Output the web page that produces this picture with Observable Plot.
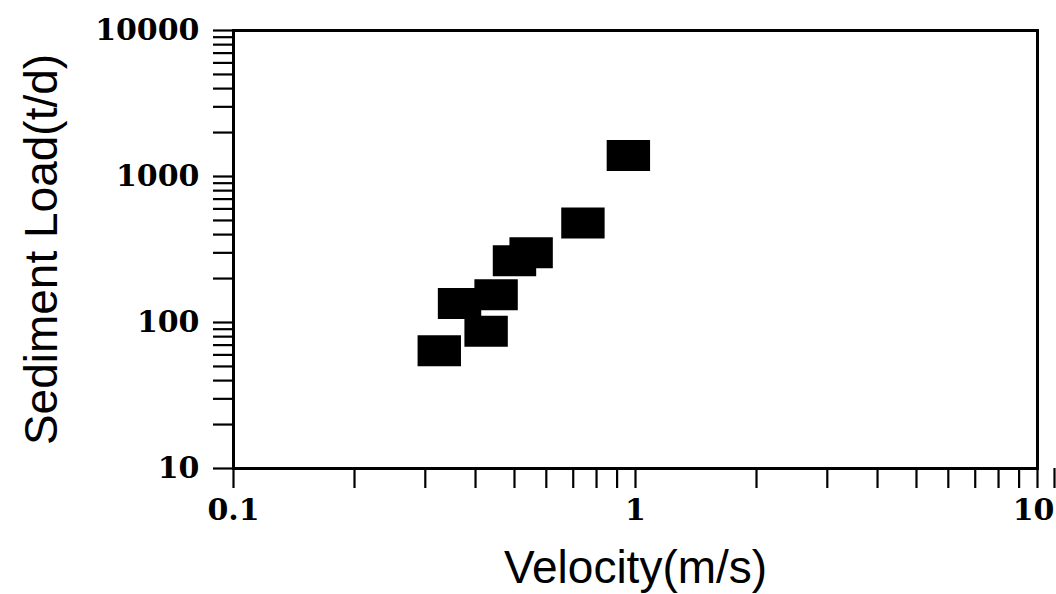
<!DOCTYPE html>
<html><head><meta charset="utf-8">
<script src="https://cdn.jsdelivr.net/npm/d3@7"></script>
<script src="https://cdn.jsdelivr.net/npm/@observablehq/plot@0.6"></script>
<style>html,body{margin:0;padding:0;background:#fff;} svg{display:block;}</style>
</head><body><div id="chart"></div>
<script>
// Data
const velocity     = [0.96, 0.74, 0.55, 0.50, 0.45, 0.365, 0.425, 0.325];
const sedimentLoad = [1390, 480, 300, 265, 155, 135, 87, 64];

// Tick values and labels
const xTickValues = [0.1,0.2,0.3,0.4,0.5,0.6,0.7,0.8,0.9,1,2,3,4,5,6,7,8,9,10];
const xLabelValues = [0.1, 1];
const xLabels = ["0.1", "1"];
const xEndLabelValues = [10];
const xEndLabels = ["10"];
const yTickValues = [10,20,30,40,50,60,70,80,90,100,200,300,400,500,600,700,800,900,1000,2000,3000,4000,5000,6000,7000,8000,9000,10000];
const yLabelValues = [10, 100, 1000, 10000];
const yLabels = ["10", "100", "1000", "10000"];
const xTitle = "Velocity(m/s)";
const yTitle = "Sediment Load(t/d)";

const points = velocity.map((v, i) => ({v, s: sedimentLoad[i]}));
const fmt = (vals, labs) => d => { const i = vals.findIndex(x => Math.abs(x - d) < 1e-9 * Math.max(1, d)); return i >= 0 ? labs[i] : ""; };

// rectangular marker (wider than tall)
const rectSymbol = {
  draw(ctx, size) {
    const r = Math.sqrt(size / Math.PI);
    ctx.rect(-r * 1.4, -r, r * 2.8, r * 2);
  }
};

const tickFont = {fontFamily: "DejaVu Serif", fontWeight: "bold", fontSize: 30};

const chart = Plot.plot({
  width: 1056,
  height: 594,
  marginLeft: 233,
  marginRight: 19,
  marginTop: 30,
  marginBottom: 126,
  style: {background: "#fff", color: "#000"},
  x: {type: "log", domain: [0.1, 10]},
  y: {type: "log", domain: [10, 10000]},
  marks: [
    Plot.axisX(xTickValues, {tickSize: 20, tickPadding: 10, strokeWidth: 2.2, tickFormat: fmt(xLabelValues, xLabels), label: null, ...tickFont}),
    Plot.axisX(xEndLabelValues, {tickSize: 20, tickPadding: 10, strokeWidth: 2.2, tickFormat: fmt(xEndLabelValues, xEndLabels), textAnchor: "end", dx: 17, label: null, ...tickFont}),
    Plot.axisY(yTickValues, {tickSize: 20, tickPadding: 14, strokeWidth: 2.2, tickFormat: fmt(yLabelValues, yLabels), label: null, ...tickFont}),
    Plot.frame({stroke: "#000", strokeWidth: 3}),
    Plot.dot(points, {x: "v", y: "s", symbol: rectSymbol, r: 15.5, fill: "#000", stroke: "none"}),
    Plot.text([xTitle], {text: d => d, frameAnchor: "bottom", lineAnchor: "middle", dy: 100, fontFamily: "Liberation Sans", fontSize: 46, fill: "#000"}),
    Plot.text([yTitle], {text: d => d, frameAnchor: "left", textAnchor: "middle", lineAnchor: "middle", dx: -191, rotate: -90, fontFamily: "Liberation Sans", fontSize: 46, fill: "#000"})
  ]
});
document.getElementById("chart").appendChild(chart);
</script>
</body></html>
